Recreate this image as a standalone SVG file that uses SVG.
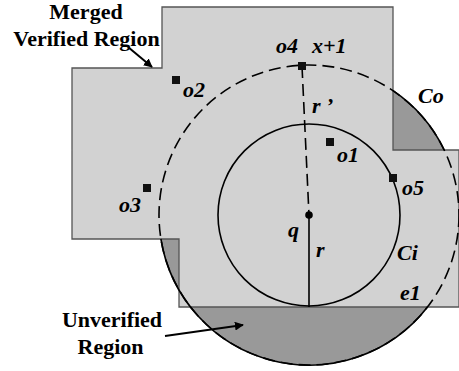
<svg xmlns="http://www.w3.org/2000/svg" width="459" height="371" viewBox="0 0 459 371">
<defs>
<marker id="ah" viewBox="0 0 10 10" refX="9" refY="5" markerWidth="9" markerHeight="9" markerUnits="userSpaceOnUse" orient="auto">
<path d="M0,0 L10,5 L0,10 z" fill="#000"/>
</marker>
</defs>
<style>
.lbl{font-family:"Liberation Serif","Times New Roman",serif;font-weight:bold;font-style:italic;font-size:22px;fill:#000}
.cap{font-family:"Liberation Serif","Times New Roman",serif;font-weight:bold;font-size:22px;fill:#000;text-anchor:middle}
.obj{fill:#111}
.solid{fill:none;stroke:#000;stroke-width:1.6}
.dash{fill:none;stroke:#000;stroke-width:1.6;stroke-dasharray:12 6}
</style>
<rect width="459" height="371" fill="#fff"/>
<g id="unverified">
<circle cx="309" cy="215" r="150" fill="#999"/>
</g>
<g id="verified-region">
<path d="M162,7 H393 V150 H459 V307 H179 V239 H72 V68 H162 Z" fill="#d2d2d2" stroke="#555" stroke-width="1.3"/>
</g>
<g id="Co">
<circle cx="309" cy="215" r="150" class="dash"/>
<path d="M393,90.7 A150,150 0 0 1 444.2,150" class="solid"/>
<path d="M160.9,239 A150,150 0 0 0 427.5,307" class="solid"/>
</g>
<g id="Ci">
<circle cx="309" cy="215" r="91" class="solid"/>
</g>
<g id="connectors">
<line x1="302" y1="66" x2="309" y2="215" class="dash"/>
<line x1="309" y1="215" x2="309" y2="307" class="solid"/>
<line x1="128" y1="47" x2="152" y2="67" stroke="#000" stroke-width="2" marker-end="url(#ah)"/>
<line x1="165" y1="336" x2="243" y2="325" stroke="#000" stroke-width="2" marker-end="url(#ah)"/>
</g>
<g id="q">
<circle cx="309" cy="215" r="3.8" fill="#000"/>
<text class="lbl" x="288" y="237">q</text>
</g>
<g id="o1"><rect class="obj" x="326" y="138" width="8" height="8"/><text class="lbl" x="337" y="162">o1</text></g>
<g id="o2"><rect class="obj" x="172" y="76" width="8" height="8"/><text class="lbl" x="183" y="97">o2</text></g>
<g id="o3"><rect class="obj" x="143" y="184" width="8" height="8"/><text class="lbl" x="119" y="212">o3</text></g>
<g id="o4"><rect class="obj" x="298" y="62" width="8" height="8"/><text class="lbl" x="276" y="53">o4</text></g>
<g id="o5"><rect class="obj" x="389" y="174" width="8" height="8"/><text class="lbl" x="402" y="195">o5</text></g>
<g id="labels">
<text class="lbl" x="312" y="53">x+1</text>
<text class="lbl" x="312" y="113">r ’</text>
<text class="lbl" x="418" y="103">Co</text>
<text class="lbl" x="316" y="257">r</text>
<text class="lbl" x="397" y="260">Ci</text>
<text class="lbl" x="400" y="300">e1</text>
<text class="cap" x="86" y="19">Merged</text>
<text class="cap" x="86.5" y="46">Verified Region</text>
<text class="cap" x="112" y="327">Unverified</text>
<text class="cap" x="110.5" y="354">Region</text>
</g>
</svg>
